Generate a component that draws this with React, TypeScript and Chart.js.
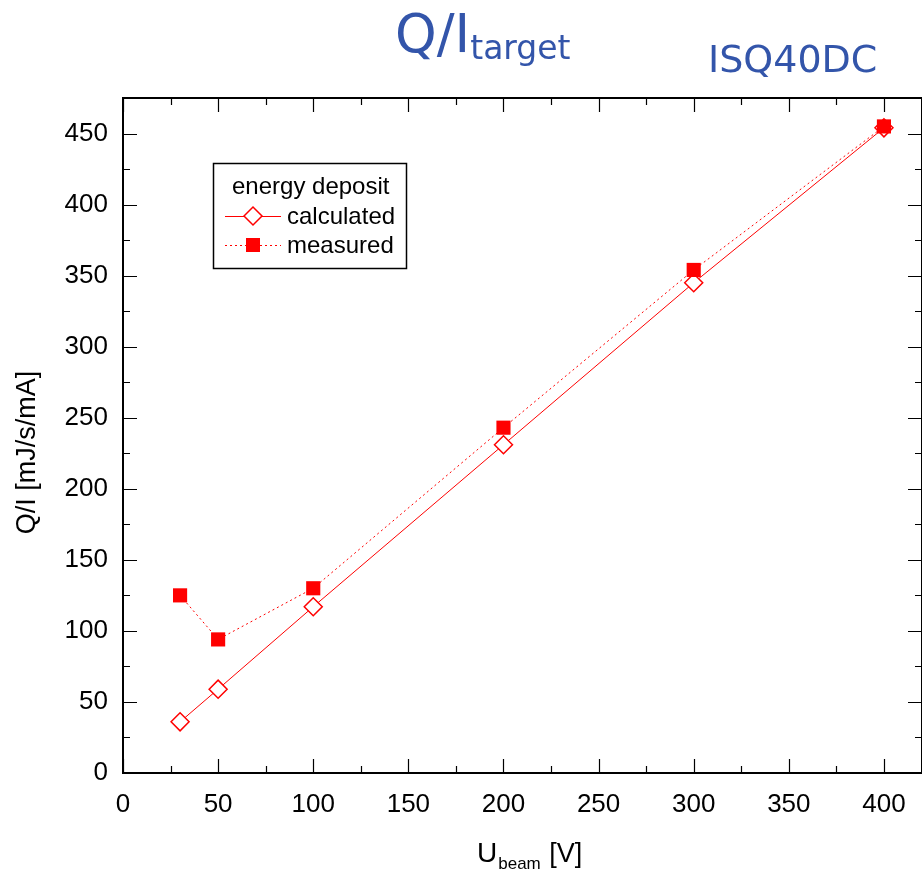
import React, { useEffect, useRef } from 'react';
import { Chart, registerables } from 'chart.js';

Chart.register(...registerables);

// ---- data ----
const uBeam = [30, 50, 100, 200, 300, 400];
const calculated = [36, 59, 117, 231, 345, 454];
const measured = [125, 94, 130, 243, 354, 455];
const xTickValues = [0, 50, 100, 150, 200, 250, 300, 350, 400];
const yTickValues = [0, 50, 100, 150, 200, 250, 300, 350, 400, 450];
const legendTitle = 'energy deposit';
const seriesNames = ['calculated', 'measured'];
const titleMain = 'Q/I';
const titleSub = 'target';
const titleRight = 'ISQ40DC';
const xTitleMain = 'U';
const xTitleSub = 'beam';
const xTitleUnit = ' [V]';
const yTitle = 'Q/I [mJ/s/mA]';

const RED = '#ff0000';
const BLUE = '#3355aa';
const TICK_FONT = 'Liberation Sans';

const decorPlugin = {
  id: 'decor',
  afterDraw(chart: any) {
    const { ctx, chartArea } = chart;
    const xs = chart.scales.x;
    const ys = chart.scales.y;
    const { left, right, top, bottom } = chartArea;
    ctx.save();
    // frame
    ctx.strokeStyle = '#000';
    ctx.lineWidth = 2;
    ctx.strokeRect(left, top, right - left, bottom - top);
    // inward ticks
    ctx.lineWidth = 1.2;
    ctx.beginPath();
    for (let v = 0; v <= xs.max + 0.001; v += 25) {
      const px = Math.round(xs.getPixelForValue(v)) + 0.5;
      const len = v % 50 === 0 ? 14 : 7;
      ctx.moveTo(px, bottom);
      ctx.lineTo(px, bottom - len);
      ctx.moveTo(px, top);
      ctx.lineTo(px, top + len);
    }
    for (let v = 0; v <= ys.max + 0.001; v += 25) {
      const py = Math.round(ys.getPixelForValue(v)) + 0.5;
      const len = v % 50 === 0 ? 14 : 7;
      ctx.moveTo(left, py);
      ctx.lineTo(left + len, py);
      ctx.moveTo(right, py);
      ctx.lineTo(right - len, py);
    }
    ctx.stroke();

    // plot title
    ctx.fillStyle = BLUE;
    ctx.textBaseline = 'alphabetic';
    ctx.textAlign = 'left';
    ctx.font = '53px "DejaVu Sans"';
    ctx.fillText(titleMain, 395, 52);
    const w1 = ctx.measureText(titleMain).width;
    ctx.font = '33px "DejaVu Sans"';
    ctx.fillText(titleSub, 395 + w1, 59);
    ctx.font = '38px "DejaVu Sans"';
    ctx.fillText(titleRight, 708, 72);

    // y axis title
    ctx.fillStyle = '#000';
    ctx.save();
    ctx.translate(35, 452.5);
    ctx.rotate(-Math.PI / 2);
    ctx.font = `27px "${TICK_FONT}"`;
    ctx.textAlign = 'center';
    ctx.fillText(yTitle, 0, 0);
    ctx.restore();

    // x axis title with subscript
    ctx.textAlign = 'left';
    ctx.font = `28px "${TICK_FONT}"`;
    const wU = ctx.measureText(xTitleMain).width;
    ctx.font = `17px "${TICK_FONT}"`;
    const wSub = ctx.measureText(xTitleSub).width;
    const x0 = 477;
    ctx.font = `28px "${TICK_FONT}"`;
    ctx.fillText(xTitleMain, x0, 862);
    ctx.font = `17px "${TICK_FONT}"`;
    ctx.fillText(xTitleSub, x0 + wU + 1, 869);
    ctx.font = `27px "${TICK_FONT}"`;
    ctx.fillText(xTitleUnit, x0 + wU + wSub + 2, 862);

    // legend
    ctx.strokeStyle = '#000';
    ctx.lineWidth = 1.5;
    ctx.strokeRect(213.5, 163.5, 193, 105);
    ctx.fillStyle = '#000';
    ctx.font = `24px "${TICK_FONT}"`;
    ctx.fillText(legendTitle, 232, 194);
    const ds = chart.data.datasets;
    const rows = [
      { label: ds[0].label, y: 216, ty: 224, dash: [] as number[], style: 'diamond' },
      { label: ds[1].label, y: 245, ty: 253, dash: [2, 3], style: 'square' },
    ];
    rows.forEach((r) => {
      ctx.strokeStyle = RED;
      ctx.lineWidth = 1;
      ctx.setLineDash(r.dash);
      ctx.beginPath();
      ctx.moveTo(225, r.y + 0.5);
      ctx.lineTo(281, r.y + 0.5);
      ctx.stroke();
      ctx.setLineDash([]);
      if (r.style === 'diamond') {
        ctx.fillStyle = '#fff';
        ctx.lineWidth = 1.5;
        ctx.beginPath();
        ctx.moveTo(253 - 9, r.y);
        ctx.lineTo(253, r.y - 9);
        ctx.lineTo(253 + 9, r.y);
        ctx.lineTo(253, r.y + 9);
        ctx.closePath();
        ctx.fill();
        ctx.stroke();
      } else {
        ctx.fillStyle = RED;
        ctx.fillRect(253 - 7, r.y - 7, 14, 14);
      }
      ctx.fillStyle = '#000';
      ctx.font = `24px "${TICK_FONT}"`;
      ctx.fillText(r.label, 287, r.ty);
    });
    ctx.restore();
  },
};

export default function App() {
  const ref = useRef<HTMLCanvasElement | null>(null);
  useEffect(() => {
    if (!ref.current) return;
    const chart = new Chart(ref.current, {
      type: 'line',
      data: {
        datasets: [
          {
            label: seriesNames[0],
            data: uBeam.map((x, i) => ({ x, y: calculated[i] })),
            borderColor: RED,
            borderWidth: 1,
            backgroundColor: '#fff',
            pointStyle: 'rectRot',
            pointRadius: 9,
            pointBorderWidth: 1.5,
            pointBorderColor: RED,
            pointBackgroundColor: '#fff',
            order: 2,
          },
          {
            label: seriesNames[1],
            data: uBeam.map((x, i) => ({ x, y: measured[i] })),
            borderColor: RED,
            borderWidth: 1,
            borderDash: [2, 3],
            backgroundColor: RED,
            pointStyle: 'rect',
            pointRadius: 10,
            pointBorderWidth: 0,
            pointBackgroundColor: RED,
            order: 1,
          },
        ],
      },
      options: {
        responsive: false,
        maintainAspectRatio: false,
        animation: false,
        devicePixelRatio: 1,
        layout: { autoPadding: false, padding: { left: 0, top: 98, right: -1, bottom: 0 } },
        plugins: {
          legend: { display: false },
          title: { display: false },
          tooltip: { enabled: false },
        },
        scales: {
          x: {
            type: 'linear',
            min: 0,
            max: 420,
            grid: { display: false, drawTicks: false },
            border: { display: false },
            afterBuildTicks: (s: any) => {
              s.ticks = xTickValues.map((v) => ({ value: v }));
            },
            afterFit: (s: any) => {
              s.height = 99;
              s.paddingLeft = 0;
              s.paddingRight = 0;
            },
            ticks: {
              color: '#000',
              font: { family: TICK_FONT, size: 26 },
              padding: 16,
              maxRotation: 0,
              autoSkip: false,
            },
          },
          y: {
            type: 'linear',
            min: 0,
            max: 475,
            grid: { display: false, drawTicks: false },
            border: { display: false },
            afterBuildTicks: (s: any) => {
              s.ticks = yTickValues.map((v) => ({ value: v }));
            },
            afterFit: (s: any) => {
              s.width = 123;
              s.paddingTop = 0;
              s.paddingBottom = 0;
            },
            ticks: {
              color: '#000',
              font: { family: TICK_FONT, size: 26 },
              padding: 15,
              autoSkip: false,
            },
          },
        },
      },
      plugins: [decorPlugin],
    } as any);
    return () => chart.destroy();
  }, []);
  return (
    <div style={{ position: 'absolute', left: 0, top: 0, width: 922, height: 872 }}>
      <canvas ref={ref} width={922} height={872} style={{ width: 922, height: 872 }} />
    </div>
  );
}
